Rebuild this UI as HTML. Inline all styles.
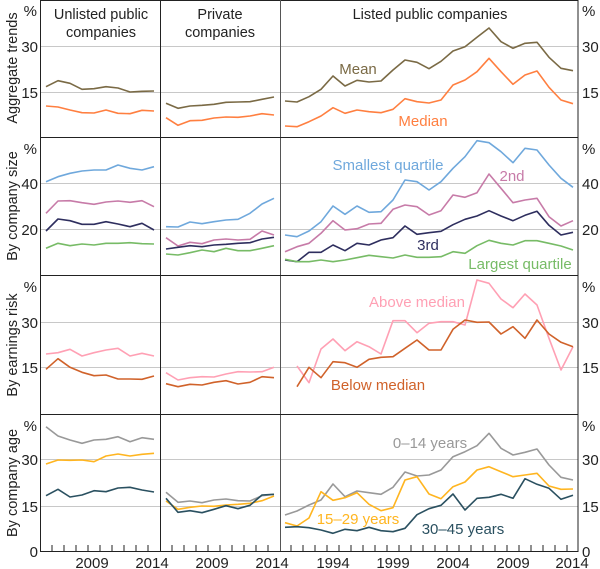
<!DOCTYPE html>
<html><head><meta charset="utf-8"><style>
body{margin:0;background:#fff}
svg{display:block;font-family:"Liberation Sans",sans-serif}
text{fill:#222}
.t{font-size:14.5px}
.n{font-size:15px}
.l{font-size:15px}
</style></head><body>
<svg id="s" width="600" height="569" viewBox="0 0 600 569">
<g id="grid" stroke="#c8c8c8" stroke-width="1"></g>
<g id="lines" fill="none" stroke-width="1.6" stroke-linejoin="round"></g>
<g stroke="#222" stroke-width="1" fill="none">
<rect x="40.5" y="0.5" width="537.5" height="551"/>
<line x1="160.5" y1="0" x2="160.5" y2="551"/>
<line x1="280.5" y1="0" x2="280.5" y2="551" stroke="#555"/>
<line x1="40" y1="137.5" x2="578" y2="137.5"/>
<line x1="40" y1="275.5" x2="578" y2="275.5"/>
<line x1="40" y1="414.5" x2="578" y2="414.5"/>
</g>
<g id="ticks" stroke="#222" stroke-width="1"></g>
<g class="t" text-anchor="middle">
<text x="101" y="19">Unlisted public</text><text x="101" y="37">companies</text>
<text x="220" y="19">Private</text><text x="220" y="37">companies</text>
<text x="430" y="19">Listed public companies</text>
</g>
<g class="t" text-anchor="middle">
<text transform="translate(17,68) rotate(-90)">Aggregate trends</text>
<text transform="translate(17,206) rotate(-90)">By company size</text>
<text transform="translate(17,345) rotate(-90)">By earnings risk</text>
<text transform="translate(17,483) rotate(-90)">By company age</text>
</g>
<g class="n" text-anchor="end">
<text x="37" y="16">%</text><text x="38" y="52">30</text><text x="38" y="98">15</text>
<text x="37" y="154">%</text><text x="38" y="189">40</text><text x="38" y="235">20</text>
<text x="37" y="292">%</text><text x="38" y="328">30</text><text x="38" y="373">15</text>
<text x="37" y="431">%</text><text x="38" y="465">30</text><text x="38" y="512">15</text><text x="38" y="557">0</text>
</g>
<g class="n" text-anchor="start">
<text x="582" y="16">%</text><text x="582" y="52">30</text><text x="582" y="98">15</text>
<text x="582" y="154">%</text><text x="582" y="189">40</text><text x="582" y="235">20</text>
<text x="582" y="292">%</text><text x="582" y="328">30</text><text x="582" y="373">15</text>
<text x="582" y="431">%</text><text x="582" y="465">30</text><text x="582" y="512">15</text><text x="582" y="557">0</text>
</g>
<g class="n" text-anchor="middle">
<text x="92" y="568">2009</text><text x="152" y="568">2014</text>
<text x="212" y="568">2009</text><text x="272" y="568">2014</text>
<text x="333" y="568">1994</text><text x="393" y="568">1999</text><text x="453" y="568">2004</text><text x="513" y="568">2009</text><text x="572" y="568">2014</text>
</g>
<g class="l" text-anchor="middle">
<text x="358" y="74" style="fill:#7a6a45">Mean</text>
<text x="423" y="126" style="fill:#ff7f40">Median</text>
<text x="388" y="170" style="fill:#6fa8dc">Smallest quartile</text>
<text x="512" y="181" style="fill:#c77ba8">2nd</text>
<text x="428" y="250" style="fill:#2e2e5e">3rd</text>
<text x="520" y="269" style="fill:#77bb66">Largest quartile</text>
<text x="417" y="307" style="fill:#ffa0b4">Above median</text>
<text x="378" y="390" style="fill:#d0622a">Below median</text>
<text x="430" y="448" style="fill:#999">0–14 years</text>
<text x="358" y="524" style="fill:#ffb520">15–29 years</text>
<text x="463" y="534" style="fill:#2a5060">30–45 years</text>
</g>
</svg>
<script>
var ns="http://www.w3.org/2000/svg";
function el(g,t,a){var e=document.createElementNS(ns,t);for(var k in a)e.setAttribute(k,a[k]);document.getElementById(g).appendChild(e);}
[46,92,183,229,322,367,459,506].forEach(function(y){el("grid","line",{x1:40,x2:578,y1:y+.5,y2:y+.5});});
for(var i=0;i<9;i++){var x=52+12*i;el("ticks","line",{x1:x,x2:x,y1:545,y2:551});el("ticks","line",{x1:x+120,x2:x+120,y1:545,y2:551});}
for(var i=0;i<24;i++){var x=291+12*i;el("ticks","line",{x1:x,x2:x,y1:545,y2:551});}
function L(c,x0,ys,off,col,sc){var p=[];ys.forEach(function(v,i){if(v==null)return;var y=sc?(off+v/3):v;p.push((x0+12*i)+","+y.toFixed(1));});el("lines","polyline",{points:p.join(" "),stroke:col});}
var C1=46,C2=166,C3=285;
L(0,C1,[86.7,80.7,83.3,89.3,88.7,86.7,88,92,91.3,91],0,"#7a6a45");
L(0,C1,[106,107,110,112.7,113,110,113.3,113.7,110.3,111],0,"#ff7f40");
L(0,C2,[103.3,108.3,106,105.3,104.3,102.3,102,101.7,99.3,97],0,"#7a6a45");
L(0,C2,[117.7,125.3,120.7,120.3,118,117,117.3,116,113.7,115],0,"#ff7f40");
L(0,C3,[303,306,290,268,228,258,241,246,243,210,180,187,206,184,153,140,112,84,125,145,130,127,172,205,212],0,"#7a6a45",1);
L(0,C3,[378,380,365,348,323,340,330,335,338,328,296,305,309,300,255,240,215,175,215,253,225,213,262,300,311],0,"#ff7f40",1);
L(0,C1,[181.7,176.7,173.3,171,170,170,165,168.3,170,166.7],0,"#6fa8dc");
L(0,C1,[213.3,201,200.7,202.7,204.3,202,201,202.3,200.7,206.7],0,"#c77ba8");
L(0,C1,[231,219,220.7,224.3,224.3,221.7,224,226.7,223.3,230],0,"#2e2e5e");
L(0,C1,[248.3,243.3,245.7,244,245,243.3,243.3,242.7,243.7,244],0,"#77bb66");
L(0,C2,[226.7,227,222,223.7,221.7,220,219.3,213.3,204,198.3],0,"#6fa8dc");
L(0,C2,[237.7,246,242.3,243.7,240,239,240,239.3,231,235],0,"#c77ba8");
L(0,C2,[249,247.3,245.7,246.7,245,244.3,243.3,242.7,239,237.3],0,"#2e2e5e");
L(0,C2,[254,255,252.7,250,251.7,248.3,250.7,250.7,248.3,245.7],0,"#77bb66");
L(0,C3,[705,710,693,665,618,643,618,637,635,600,540,545,570,545,505,470,422,428,455,488,445,450,495,535,562],0,"#6fa8dc",1);
L(0,C3,[755,740,730,700,662,690,686,672,670,628,615,620,645,632,585,592,578,522,565,608,600,595,650,678,662],0,"#c77ba8",1);
L(0,C3,[780,785,757,757,735,752,730,735,720,713,678,703,698,694,674,658,648,632,648,662,646,634,676,705,697],0,"#2e2e5e",1);
L(0,C3,[778,785,785,780,785,780,773,766,770,774,765,772,772,770,755,760,737,721,730,735,722,722,730,738,750],0,"#77bb66",1);
L(0,C1,[222,218,208,228,218,210,205,228,220,228],280,"#ffa0b4",1);
L(0,C1,[268,236,262,277,287,285,297,297,298,288],280,"#d0622a",1);
L(0,C2,[278,300,293,290,291,282,275,276,275,262],280,"#ffa0b4",1);
L(0,C2,[311,320,313,315,307,302,312,307,290,293],280,"#d0622a",1);
L(0,C3,[null,258,308,207,177,212,185,200,222,122,122,158,130,125,125,135,0,10,57,83,42,75,175,270,200],280,"#ffa0b4",1);
L(0,C3,[null,320,262,293,245,248,262,238,232,230,205,180,210,210,148,120,127,126,162,140,175,120,162,187,200],280,"#d0622a",1);
L(0,C1,[440,468,480,490,480,478,470,485,473,478],280,"#999",1);
L(0,C1,[552,540,541,540,545,528,522,528,523,520],280,"#ffb520",1);
L(0,C1,[647,628,651,645,632,635,624,622,630,636],280,"#2a5060",1);
L(0,C2,[637,667,663,668,660,657,662,663,647,643],280,"#999",1);
L(0,C2,[663,688,682,678,679,675,673,670,662,648],280,"#ffb520",1);
L(0,C2,[655,697,692,698,688,677,686,676,645,643],280,"#2a5060",1);
L(0,C3,[705,693,675,660,612,650,633,638,643,622,576,588,585,570,530,515,497,460,505,525,517,507,555,592,600],280,"#999",1);
L(0,C3,[728,738,714,635,661,653,638,673,692,683,600,590,642,656,620,606,570,560,575,590,585,580,618,628,627],280,"#ffb520",1);
L(0,C3,[742,740,743,750,760,748,752,742,752,755,745,704,686,676,642,690,655,652,643,655,596,613,625,658,646],280,"#2a5060",1);
</script>
</body></html>
